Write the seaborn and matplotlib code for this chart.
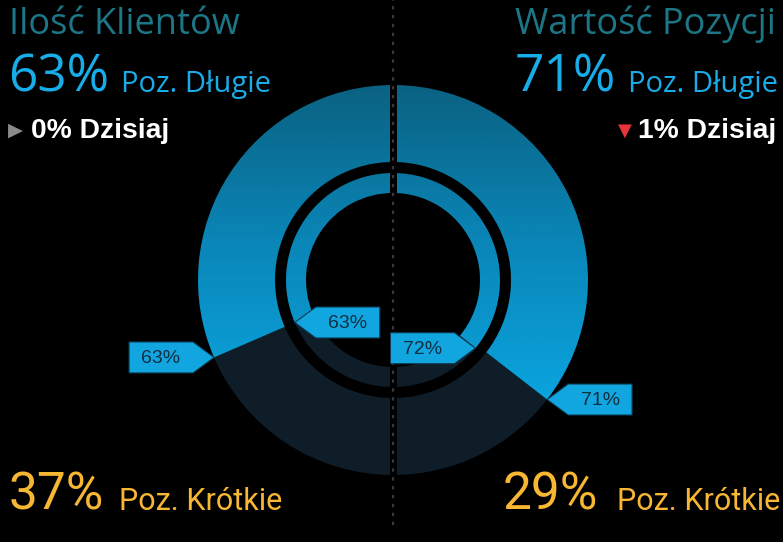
import numpy as np
import matplotlib
matplotlib.use("Agg")
import matplotlib.pyplot as plt
from matplotlib.colors import LinearSegmentedColormap
from matplotlib.patches import Polygon
import seaborn as sns

# ---- data ----
panels = ["Ilość Klientów", "Wartość Pozycji"]
long_pct = [63, 71]          # outer ring, long positions
short_pct = [37, 29]         # outer ring, short positions
inner_pct = [63, 72]         # inner ring value
today_change = ["0% Dzisiaj", "1% Dzisiaj"]
today_marker = ["▶", "▼"]
long_label = "Poz. Długie"
short_label = "Poz. Krótkie"

sns.set_theme(style="dark")
plt.rcParams["font.family"] = ["Open Sans", "DejaVu Sans"]

W, H = 783, 542
fig = plt.figure(figsize=(W / 100, H / 100), dpi=100, facecolor="black")
ax = fig.add_axes([0, 0, 1, 1])
ax.set_facecolor("black")
ax.set_axis_off()

cx, cy = 393, H - 280
R_out, w_out = 195, 77
R_in, w_in = 107, 20

BLUE_TOP = "#0a6282"
BLUE_BOT = "#0aa4de"
DARK = "#0f1d28"
LBL = "#12a6e0"
LBL_TXT = "#0e2f42"

cmap = LinearSegmentedColormap.from_list("g", [BLUE_TOP, "#0a86b8", BLUE_BOT])
grad = np.linspace(0, 1, 256).reshape(-1, 1)
gtop, gbot = H - 85, H - 400


def half_ring(value, radius, width, ccw):
    wedges, _ = ax.pie([value, 100 - value, 100], startangle=90, counterclock=ccw,
                       radius=radius, center=(cx, cy),
                       colors=[BLUE_TOP, DARK, (0, 0, 0, 0)],
                       wedgeprops=dict(width=width, linewidth=0))
    blue = wedges[0]
    im = ax.imshow(grad, cmap=cmap, aspect="auto", origin="upper",
                   extent=(cx - R_out, cx + R_out, gbot, gtop), zorder=1.5)
    im.set_clip_path(blue)
    blue.set_facecolor((0, 0, 0, 0))


def callout(value, radius, ccw, box_side):
    ang_from_top = np.deg2rad(value / 200 * 360)
    sgn = -1 if ccw else 1
    tx = cx + sgn * radius * np.sin(ang_from_top)
    ty = cy + radius * np.cos(ang_from_top)
    arrow, bw, bh = 21, 64, 31
    d = box_side  # -1: box to the left of tip, +1: to the right
    x1 = tx + d * arrow
    x2 = x1 + d * bw
    poly = [(tx, ty), (x1, ty + bh / 2), (x2, ty + bh / 2), (x2, ty - bh / 2), (x1, ty - bh / 2)]
    ax.add_patch(Polygon(poly, closed=True, facecolor=LBL, edgecolor="#0b3a52",
                         linewidth=0.8, zorder=5))
    ax.text((x1 + x2) / 2, ty - 1, f"{value}%", ha="center", va="center",
            fontsize=14, color=LBL_TXT, family=["Liberation Sans", "DejaVu Sans"], zorder=6)


# left half (counterclockwise from top), right half (clockwise)
half_ring(long_pct[0], R_out, w_out, True)
half_ring(inner_pct[0], R_in, w_in, True)
half_ring(long_pct[1], R_out, w_out, False)
half_ring(inner_pct[1], R_in, w_in, False)

callout(long_pct[0], R_out, True, -1)
callout(inner_pct[0], R_in, True, +1)
callout(inner_pct[1], R_in, False, -1)
callout(long_pct[1], R_out, False, +1)

# center divider
ax.plot([cx, cx], [H - 528, H], color="black", linewidth=5, zorder=3, solid_capstyle="butt")
ax.plot([cx, cx], [H - 525, H], color="#3a3a3a", linewidth=1.6, zorder=3.5,
        linestyle=(0, (1.5, 2.5)))

ax.set_xlim(0, W)
ax.set_ylim(0, H)
ax.set_aspect("equal")

TEAL = "#1c7686"
CYAN = "#18ace8"
YEL = "#f7b733"
ttl = dict(fontsize=26, color=TEAL)
cond = ["Roboto", "Open Sans"]

# left texts
ax.text(9, H - 34, panels[0], ha="left", va="baseline", **ttl)
ax.text(8, H - 92, f"{long_pct[0]}%", ha="left", va="baseline", fontsize=37, color=CYAN)
ax.text(121, H - 92, long_label, ha="left", va="baseline", fontsize=21, color=CYAN)
ax.text(8, H - 136, today_marker[0], ha="left", va="baseline", fontsize=14, color="#8a8a8a",
        family=["DejaVu Sans"])
ax.text(31, H - 138, today_change[0], ha="left", va="baseline", fontsize=20.3,
        color="white", weight="bold", family=["Liberation Sans", "DejaVu Sans"])
ax.text(9, H - 510, f"{short_pct[0]}%", ha="left", va="baseline", fontsize=37, color=YEL,
        family=cond)
ax.text(119, H - 510, short_label, ha="left", va="baseline", fontsize=22, color=YEL,
        family=cond)

# right texts
ax.text(776, H - 34, panels[1], ha="right", va="baseline", **ttl)
ax.text(515, H - 92, f"{long_pct[1]}%", ha="left", va="baseline", fontsize=37, color=CYAN)
ax.text(778, H - 92, long_label, ha="right", va="baseline", fontsize=21, color=CYAN)
ax.text(618, H - 136, today_marker[1], ha="left", va="baseline", fontsize=13, color="#e8333a",
        family=["DejaVu Sans"])
ax.text(776, H - 138, today_change[1], ha="right", va="baseline", fontsize=20.3,
        color="white", weight="bold", family=["Liberation Sans", "DejaVu Sans"])
ax.text(503, H - 510, f"{short_pct[1]}%", ha="left", va="baseline", fontsize=37, color=YEL,
        family=cond)
ax.text(780, H - 510, short_label, ha="right", va="baseline", fontsize=22, color=YEL,
        family=cond)

fig.savefig("out.png", dpi=100, facecolor="black")
